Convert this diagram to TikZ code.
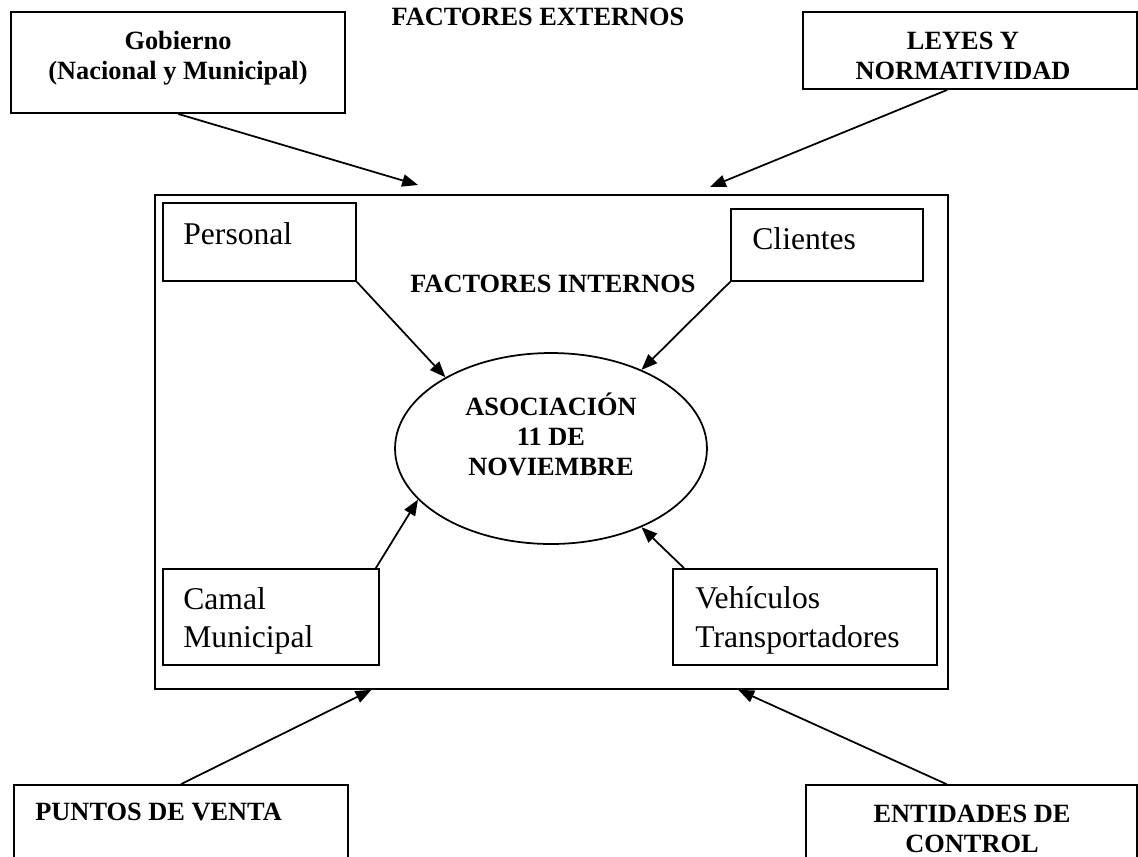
\documentclass[tikz,border=0pt]{standalone}
\usepackage{fontspec}
\setmainfont{Liberation Serif}
\usetikzlibrary{arrows.meta,shapes.geometric}
\pgfdeclarelayer{nodelayer}
\pgfdeclarelayer{edgelayer}
\pgfsetlayers{edgelayer,nodelayer,main}
\tikzstyle{box}=[fill=none, draw=black, shape=rectangle, line width=1pt, inner sep=0pt]
\tikzstyle{oval}=[fill=none, draw=black, shape=ellipse, line width=1pt, inner sep=0pt, minimum width=6.24cm, minimum height=3.82cm]
\tikzstyle{bold label}=[inner sep=0pt, align=center, font=\fontsize{15}{17}\selectfont\bfseries]
\tikzstyle{plain label}=[inner sep=0pt, align=left, font=\fontsize{18}{22}\selectfont]
\tikzstyle{arrow edge}=[draw=black, line width=1pt, -{Triangle[length=9pt, width=7pt]}]

\begin{document}
\begin{tikzpicture}[x=0.02cm, y=-0.02cm]
	\useasboundingbox (0, 0) rectangle (1138, 856);
	\begin{pgfonlayer}{nodelayer}
		\node [style=box, minimum width=6.68cm, minimum height=2.02cm] (0) at (178, 62.5) {};
		\node [style=box, minimum width=6.68cm, minimum height=1.54cm] (1) at (970, 50.5) {};
		\node [style=box, minimum width=15.86cm, minimum height=9.88cm] (2) at (551.5, 442) {};
		\node [style=box, minimum width=3.86cm, minimum height=1.56cm] (3) at (259.5, 242) {};
		\node [style=box, minimum width=3.84cm, minimum height=1.44cm] (4) at (827, 245) {};
		\node [style=box, minimum width=4.32cm, minimum height=1.92cm] (5) at (271, 617) {};
		\node [style=box, minimum width=5.28cm, minimum height=1.92cm] (6) at (805, 617) {};
		\node [style=box, minimum width=6.68cm, minimum height=1.7cm] (7) at (181, 827.5) {};
		\node [style=box, minimum width=6.62cm, minimum height=1.7cm] (8) at (971.5, 827.5) {};
		\node [style=oval] (9) at (551, 448.5) {};
		\coordinate (10) at (418, 185);
		\coordinate (11) at (710, 187);
		\node [style=bold label, anchor=north] (12) at (538, 8) {FACTORES EXTERNOS};
		\node [style=bold label, anchor=north] (13) at (178, 31) {Gobierno\\(Nacional y Municipal)};
		\node [style=bold label, anchor=north] (14) at (963, 32) {LEYES Y\\NORMATIVIDAD};
		\node [style=bold label, anchor=north] (15) at (553, 275) {FACTORES INTERNOS};
		\node [style=bold label, anchor=north] (16) at (551, 393) {ASOCIACIÓN\\11 DE\\NOVIEMBRE};
		\node [style=bold label, anchor=north west] (17) at (35, 803) {PUNTOS DE VENTA};
		\node [style=bold label, anchor=north] (18) at (972, 805) {ENTIDADES DE\\CONTROL};
		\node [style=plain label, anchor=north west] (19) at (183, 222) {Personal};
		\node [style=plain label, anchor=north west] (20) at (752, 227) {Clientes};
		\node [style=plain label, anchor=north west] (21) at (183, 587) {Camal\\Municipal};
		\node [style=plain label, anchor=north west] (22) at (695, 586) {Vehículos\\Transportadores};
	\end{pgfonlayer}
	\begin{pgfonlayer}{edgelayer}
		\draw [style=arrow edge] (0.south) to (10);
		\draw [style=arrow edge] (1.-120) to (11);
		\draw [style=arrow edge] (3.south east) to (9.146);
		\draw [style=arrow edge] (4.south west) to (9.41);
		\draw [style=arrow edge] (5.25) to (9.201);
		\draw [style=arrow edge] (6.158) to (9.319);
		\draw [style=arrow edge] (7.north) to (2.-126.5);
		\draw [style=arrow edge] (8.120) to (2.-53);
	\end{pgfonlayer}
\end{tikzpicture}
\end{document}
